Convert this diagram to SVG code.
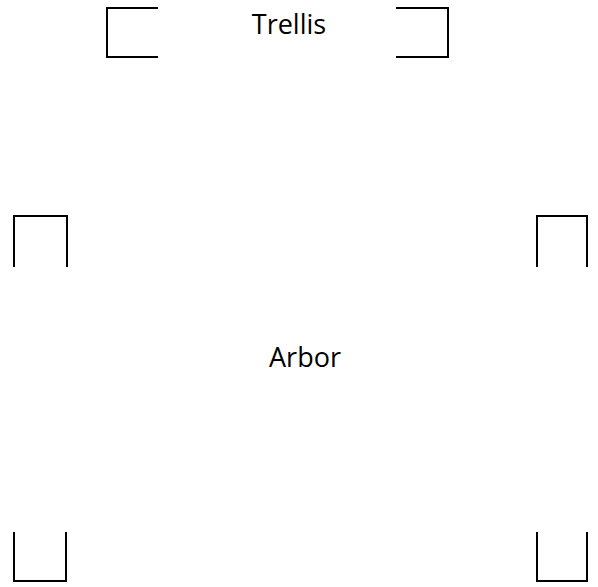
<svg xmlns="http://www.w3.org/2000/svg" width="598" height="587" viewBox="0 0 598 587">
<style>
.br{fill:none;stroke:#000;stroke-width:2;stroke-linecap:butt;stroke-linejoin:miter}
.lbl{font-family:"Open Sans","Liberation Sans",sans-serif;font-size:27px;fill:#000;text-anchor:middle}
</style>
<rect width="598" height="587" fill="#fff"/>
<g id="trellis">
<path class="br" d="M158,8 H107 V57 H158"/>
<path class="br" d="M396,8 H448 V57 H396"/>
<text class="lbl" x="289" y="34">Trellis</text>
</g>
<g id="arbor">
<path class="br" d="M14,267 V216 H67 V267"/>
<path class="br" d="M537,267 V216 H587 V267"/>
<path class="br" d="M14,532 V581 H66 V532"/>
<path class="br" d="M537,532 V581 H587 V532"/>
<text class="lbl" x="305" y="367">Arbor</text>
</g>
<g id="connectors"></g>
</svg>
